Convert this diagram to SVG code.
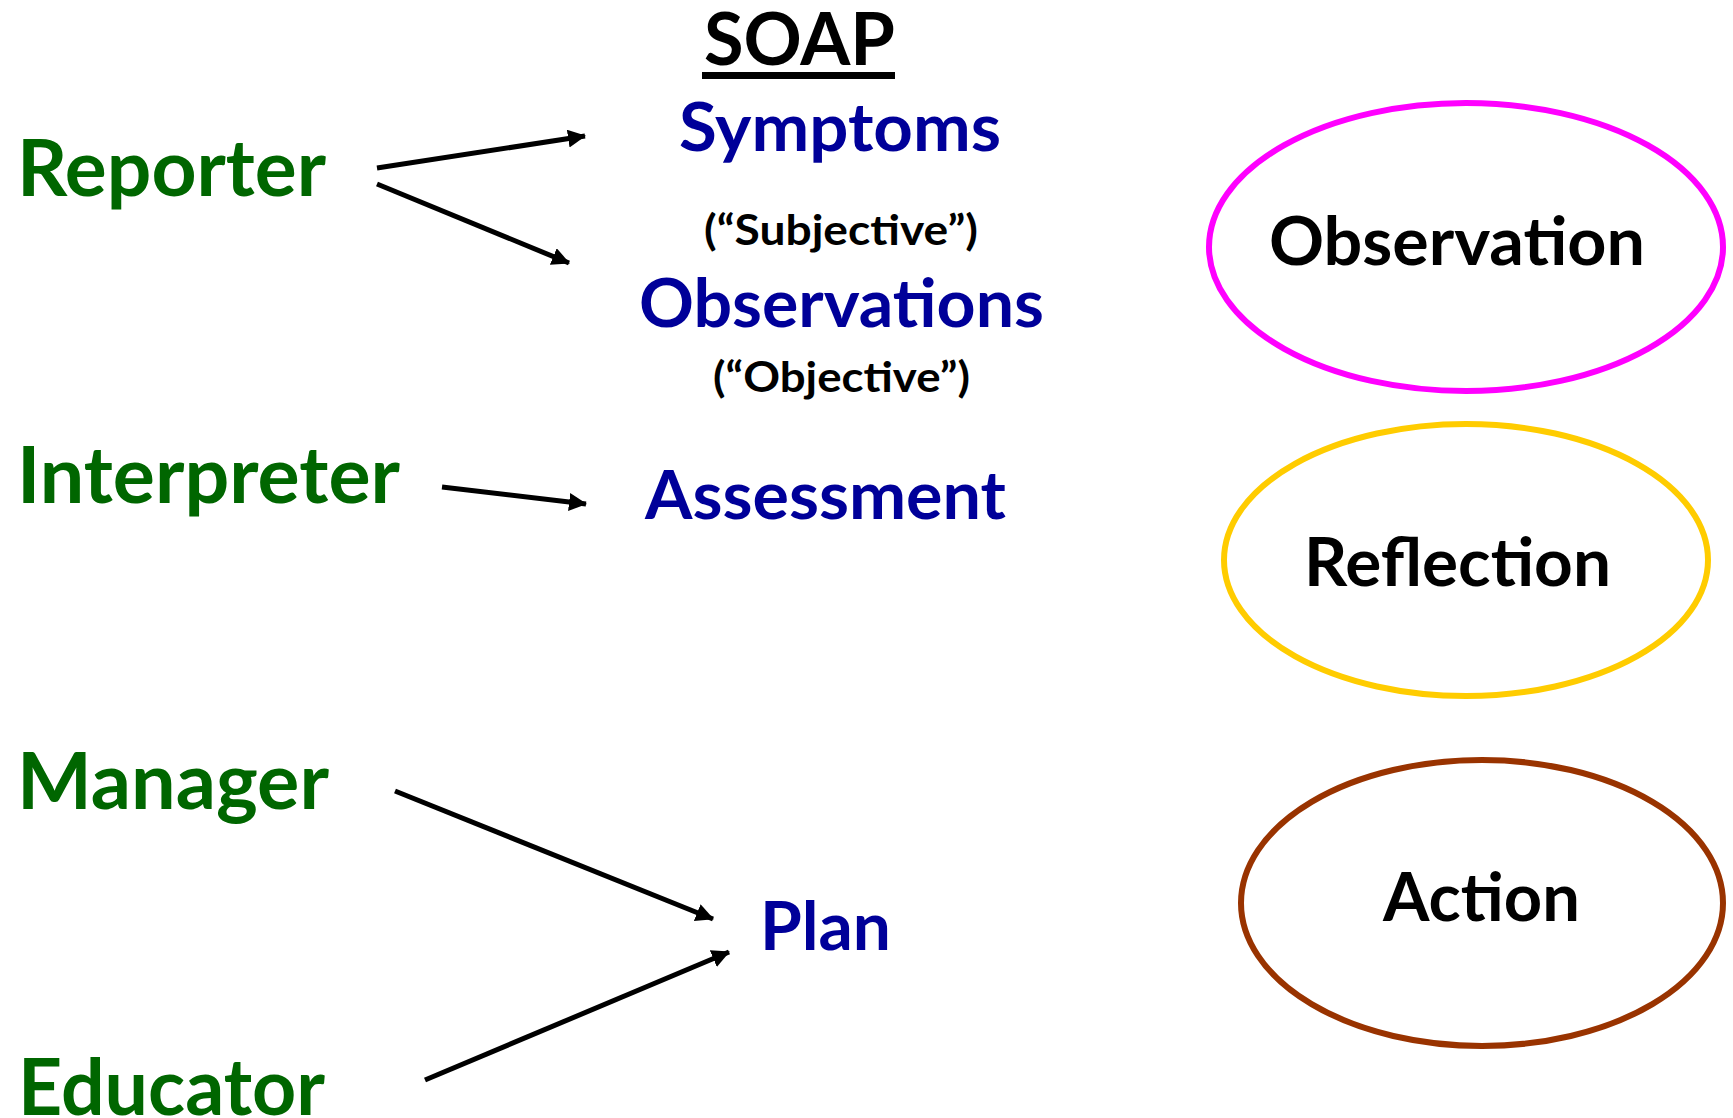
<svg xmlns="http://www.w3.org/2000/svg" width="1733" height="1118" viewBox="0 0 1733 1118">
<style>
text{font-family:Lato,"Open Sans","Liberation Sans",sans-serif;font-weight:bold}
.role{fill:#006600;font-size:78px}
.soap{fill:#000099;font-size:66px}
.sub{fill:#000;font-size:42px}
.title{fill:#000;font-size:73px}
.lbl{fill:#000;font-size:67px}
.conn{stroke:#000;stroke-width:5;fill:none;marker-end:url(#ah)}
.ell{fill:none;stroke-width:6}
</style>
<defs>
<marker id="ah" markerUnits="userSpaceOnUse" markerWidth="22" markerHeight="20" refX="17" refY="9" orient="auto">
<path d="M0,0 L18,9 L0,18 Z" fill="#000"/>
</marker>
</defs>
<rect width="1733" height="1118" fill="#fff"/>
<g id="title">
<text class="title" x="704" y="65" textLength="191" lengthAdjust="spacingAndGlyphs">SOAP</text>
<rect x="702" y="72" width="193" height="7" fill="#000"/>
</g>
<g id="reporter"><text class="role" x="17" y="196" textLength="309" lengthAdjust="spacingAndGlyphs">Reporter</text></g>
<g id="interpreter"><text class="role" x="17" y="503" textLength="383" lengthAdjust="spacingAndGlyphs">Interpreter</text></g>
<g id="manager"><text class="role" x="17" y="809" textLength="312" lengthAdjust="spacingAndGlyphs">Manager</text></g>
<g id="educator"><text class="role" x="18" y="1115" textLength="307" lengthAdjust="spacingAndGlyphs">Educator</text></g>
<g id="symptoms">
<text class="soap" x="679" y="151" textLength="322" lengthAdjust="spacingAndGlyphs">Symptoms</text>
<text class="sub" x="704" y="245" textLength="274" lengthAdjust="spacingAndGlyphs">(“Subjective”)</text>
</g>
<g id="observations">
<text class="soap" x="639" y="327" textLength="405" lengthAdjust="spacingAndGlyphs">Observations</text>
<text class="sub" x="713" y="392" textLength="257" lengthAdjust="spacingAndGlyphs">(“Objective”)</text>
</g>
<g id="assessment"><text class="soap" x="645" y="519" textLength="361" lengthAdjust="spacingAndGlyphs">Assessment</text></g>
<g id="plan"><text class="soap" x="760" y="950" textLength="131" lengthAdjust="spacingAndGlyphs">Plan</text></g>
<g id="observation">
<ellipse class="ell" cx="1466" cy="247" rx="257" ry="144" stroke="#FF00FF"/>
<text class="lbl" x="1269" y="265" textLength="376" lengthAdjust="spacingAndGlyphs">Observation</text>
</g>
<g id="reflection">
<ellipse class="ell" cx="1466" cy="560" rx="242" ry="136" stroke="#FFCC00"/>
<text class="lbl" x="1304" y="586" textLength="307" lengthAdjust="spacingAndGlyphs">Reflection</text>
</g>
<g id="action">
<ellipse class="ell" cx="1482" cy="903" rx="241" ry="143" stroke="#993300"/>
<text class="lbl" x="1383" y="921" textLength="197" lengthAdjust="spacingAndGlyphs">Action</text>
</g>
<g id="connectors">
<line class="conn" x1="377" y1="168" x2="585" y2="136"/>
<line class="conn" x1="377" y1="184" x2="569" y2="263"/>
<line class="conn" x1="442" y1="487" x2="586" y2="504"/>
<line class="conn" x1="395" y1="791" x2="713" y2="919"/>
<line class="conn" x1="425" y1="1080" x2="729" y2="952"/>
</g>
</svg>
